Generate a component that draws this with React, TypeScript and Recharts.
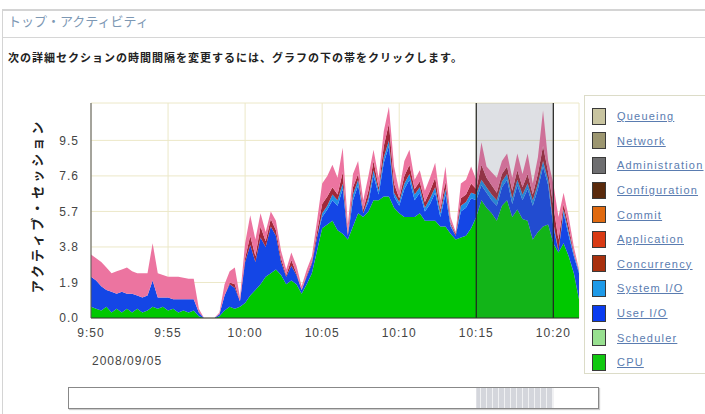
import React from "react";
import { AreaChart, Area, XAxis, YAxis, CartesianGrid, ReferenceArea, ReferenceLine } from "recharts";

// active sessions per wait class, sampled every 20 s from 9:50
const cpu = [
  0.6, 0.5, 0.4, 0.6, 0.3, 0.5, 0.3, 0.5, 0.3, 0.5,
  0.3, 0.4, 0.6, 0.5, 0.6, 0.4, 0.5, 0.3, 0.4, 0.3,
  0.4, 0.1, 0, 0, 0, 0.1, 0.4, 0.6, 0.5, 0.6,
  0.8, 1.2, 1.5, 1.8, 2.2, 2.4, 2.6, 2.3, 1.8, 2.0,
  1.8, 1.3, 1.8, 2.4, 3.6, 4.8, 5.0, 5.2, 4.7, 4.5,
  4.2, 4.9, 5.6, 5.4, 5.7, 6.3, 6.3, 6.5, 6.5, 5.9,
  5.6, 5.4, 5.4, 5.4, 5.6, 5.2, 5.2, 5.2, 4.9, 4.9,
  4.5, 4.2, 4.3, 4.4, 4.8, 5.4, 6.3, 5.9, 5.6, 5.2,
  6.0, 6.3, 5.4, 5.8, 5.3, 5.2, 4.2, 4.6, 4.9, 5.0,
  4.0, 3.5, 4.0, 3.3, 2.4, 1.0,
];
const userIO = [
  1.6, 1.5, 1.3, 0.9, 1.1, 0.8, 1.1, 0.8, 1.0, 0.7,
  0.8, 0.8, 1.4, 0.6, 0.5, 0.7, 0.5, 0.7, 0.6, 0.7,
  0.6, 0.2, 0, 0, 0, 0.1, 0.8, 1.2, 1.1, 0.3,
  2.2, 2.7, 1.5, 2.5, 1.6, 2.5, 1.8, 0.7, 0.4, 0.8,
  0.5, 0.2, 0.4, 0.5, 0.7, 0.6, 0.8, 1.1, 1.3, 2.4,
  0.2, 1.4, 1.5, 0.2, 0.5, 1.3, 0.3, 1.8, 2.7, 0.6,
  0.4, 1.5, 2.0, 0.9, 1.1, 0.5, 0.9, 1.5, 0.5, 1.7,
  0.4, 0.2, 1.4, 1.5, 1.6, 0.9, 0.8, 0.8, 0.7, 0.8,
  1.0, 1.1, 0.7, 1.3, 1.0, 1.7, 1.8, 2.3, 3.2, 2.1,
  0.9, 0.1, 1.6, 1.1, 0.9, 1.4,
];
const systemIO = [
  0, 0, 0, 0, 0, 0, 0, 0, 0, 0,
  0, 0, 0, 0, 0, 0, 0, 0, 0, 0,
  0, 0, 0, 0, 0, 0, 0, 0, 0, 0,
  0, 0, 0, 0, 0, 0, 0, 0, 0, 0,
  0, 0, 0, 0, 0, 0.2, 0.2, 0.3, 0.3, 0.3,
  0, 0.3, 0.3, 0, 0.2, 0.3, 0.2, 0.3, 0.3, 0.2,
  0.2, 0.3, 0.3, 0.3, 0.3, 0.2, 0.3, 0.3, 0.2, 0.3,
  0.1, 0, 0.3, 0.3, 0.3, 0.3, 0.3, 0.3, 0.3, 0.3,
  0.3, 0.3, 0.3, 0.3, 0.3, 0.3, 0.3, 0.3, 0.3, 0.3,
  0.2, 0, 0.2, 0.2, 0.1, 0.1,
];
const concurrency = [
  0, 0, 0, 0, 0, 0, 0, 0, 0, 0,
  0, 0, 0, 0, 0, 0, 0, 0, 0, 0,
  0, 0, 0, 0, 0, 0, 0, 0.1, 0.2, 0,
  0.2, 0.5, 0.3, 0.6, 0.3, 0.4, 0.3, 0.2, 0.1, 0.3,
  0.1, 0, 0.1, 0.1, 0.3, 0.5, 0.5, 0.4, 0.3, 0.6,
  0.1, 0.4, 0.3, 0.2, 0.4, 0.5, 0.2, 0.6, 0.9, 0.5,
  0.2, 0.4, 0.5, 0.3, 0.3, 0.3, 0.4, 0.5, 0.2, 0.4,
  0.1, 0.1, 0.4, 0.4, 0.5, 0.3, 0.8, 0.5, 0.5, 0.4,
  0.4, 0.4, 0.4, 0.5, 0.4, 0.5, 0.3, 0.5, 0.8, 0.4,
  0.9, 0.6, 0.3, 0.3, 0.1, 0,
];
const other = [
  1.2, 1.2, 1.3, 1.2, 1.0, 1.2, 1.2, 1.4, 1.2, 1.2,
  1.3, 1.2, 2.0, 1.3, 1.2, 1.1, 1.2, 1.2, 1.15, 1.1,
  1.1, 0.2, 0, 0, 0, 0.1, 0.6, 0.6, 0.9, 0.2,
  0.8, 1.1, 0.9, 0.7, 0.5, 0.4, 0.5, 0.4, 0.3, 0.4,
  0.4, 0.2, 0.3, 0.3, 0.6, 1.1, 1.1, 1.2, 0.9, 1.3,
  0.5, 0.7, 0.7, 0.5, 0.8, 0.6, 0.5, 0.8, 0.9, 0.9,
  0.4, 0.8, 0.8, 0.5, 0.6, 0.6, 0.7, 0.8, 0.5, 0.8,
  0.3, 0.1, 0.8, 0.8, 0.9, 0.5, 1.2, 0.6, 0.7, 0.8,
  0.7, 0.7, 0.7, 0.9, 0.7, 1.1, 0.6, 0.9, 1.9, 0.6,
  1.2, 1.2, 0.6, 0.5, 0.3, 0.1,
];

const sampleMinutes = 1 / 3;
const xTickValues = [0, 5, 10, 15, 20, 25, 30];
const xTickLabels = ["9:50", "9:55", "10:00", "10:05", "10:10", "10:15", "10:20"];
const yTicks = [0, 1.9, 3.8, 5.7, 7.6, 9.5];
const selection = [25, 30];

const legendNames = [
  "Queueing", "Network", "Administration", "Configuration", "Commit", "Application",
  "Concurrency", "System I/O", "User I/O", "Scheduler", "CPU",
];
const legendColors = [
  "#c8c4a0", "#9c9670", "#6e6e70", "#5a2a0c", "#e06a10", "#d83a14",
  "#a8300e", "#1e9ae8", "#0a3cf0", "#98e090", "#10c810",
];

const data = cpu.map((v, i) => ({
  t: i * sampleMinutes,
  cpu: v,
  userIO: userIO[i],
  systemIO: systemIO[i],
  concurrency: concurrency[i],
  other: other[i],
}));
const lastT = data[data.length - 1].t;

const latin = "'Liberation Sans', Arial, 'Noto Sans CJK JP', sans-serif";
const cjk = "'Noto Sans CJK JP', sans-serif";

export default function App() {
  return (
    <div style={{ position: "absolute", left: 0, top: 0, width: 705, height: 414, overflow: "hidden", background: "#fff", fontFamily: latin }}>
      {/* frame */}
      <div style={{ position: "absolute", left: 2, top: 9, width: 710, height: 420, borderLeft: "1px solid #d4d4d4", borderTop: "2px solid #d4d4d4" }} />
      <div style={{ position: "absolute", left: 3, top: 37, width: 710, height: 0, borderTop: "1px solid #d6d6d6" }} />
      <div style={{ position: "absolute", left: 8, top: 11, fontFamily: cjk, fontSize: 13, lineHeight: "19px", color: "#7d98b4", whiteSpace: "nowrap" }}>
        トップ・アクティビティ
      </div>
      <div style={{ position: "absolute", left: 8, top: 49, fontFamily: cjk, fontSize: 11, lineHeight: "16px", fontWeight: 700, letterSpacing: 1, color: "#222", whiteSpace: "nowrap" }}>
        次の詳細セクションの時間間隔を変更するには、グラフの下の帯をクリックします。
      </div>

      <div style={{ position: "absolute", left: 0, top: 0 }}>
        <AreaChart width={600} height={400} data={data} margin={{ top: 103, right: 21, bottom: 52, left: 41 }}>
          <CartesianGrid stroke="#ece8c8" ticks={yTicks} />
          <XAxis
            dataKey="t"
            type="number"
            domain={[0, lastT]}
            ticks={xTickValues}
            tickFormatter={(v: number) => xTickLabels[xTickValues.indexOf(v)]}
            tickLine={false}
            tickMargin={4}
            height={30}
            axisLine={{ stroke: "#333" }}
            tick={{ fontSize: 12, fill: "#444", letterSpacing: 1 }}
            interval={0}
          />
          <YAxis
            type="number"
            domain={[0, 11.5]}
            ticks={yTicks}
            tickFormatter={(v: number) => v.toFixed(1)}
            tickLine={false}
            tickMargin={6}
            width={50}
            axisLine={{ stroke: "#555" }}
            tick={{ fontSize: 12, fill: "#444", letterSpacing: 1 }}
            interval={0}
          />
          <Area type="linear" dataKey="cpu" stackId="a" stroke="none" fill="#00c800" fillOpacity={1} isAnimationActive={false} />
          <Area type="linear" dataKey="userIO" stackId="a" stroke="none" fill="#1446e6" fillOpacity={1} isAnimationActive={false} />
          <Area type="linear" dataKey="systemIO" stackId="a" stroke="none" fill="#1e8ee8" fillOpacity={1} isAnimationActive={false} />
          <Area type="linear" dataKey="concurrency" stackId="a" stroke="none" fill="#a0283a" fillOpacity={1} isAnimationActive={false} />
          <Area type="linear" dataKey="other" stackId="a" stroke="none" fill="#ec74a0" fillOpacity={1} isAnimationActive={false} />
          <ReferenceArea x1={selection[0]} x2={selection[1]} y1={0} y2={11.5} fill="#5a6478" fillOpacity={0.2} stroke="none" />
          <ReferenceLine x={selection[0]} stroke="#222" strokeWidth={1.2} />
          <ReferenceLine x={selection[1]} stroke="#222" strokeWidth={1.2} />
        </AreaChart>
      </div>

      {/* y axis title */}
      <div style={{ position: "absolute", left: 37 - 100, top: 206 - 9, width: 200, textAlign: "center", transform: "rotate(-90deg)", fontFamily: cjk, fontSize: 13, fontWeight: 700, letterSpacing: 3, color: "#222", whiteSpace: "nowrap", lineHeight: "18px" }}>
        アクティブ・セッション
      </div>
      <div style={{ position: "absolute", left: 92, top: 354, fontSize: 12, letterSpacing: 1, color: "#444" }}>2008/09/05</div>

      {/* legend */}
      <div style={{ position: "absolute", left: 584, top: 95, width: 140, height: 279, border: "1px solid #dcdcc8", boxSizing: "border-box", paddingTop: 8 }}>
        {legendNames.map((name, i) => (
          <div key={name} style={{ display: "flex", alignItems: "center", height: 24.6 }}>
            <div style={{ width: 14, height: 17, marginLeft: 7, marginRight: 11, background: legendColors[i], border: "1px solid #3a3a3a", boxSizing: "border-box" }} />
            <span style={{ fontSize: 11, letterSpacing: 1.2, color: "#5a7cb0", textDecoration: "underline", whiteSpace: "nowrap" }}>{name}</span>
          </div>
        ))}
      </div>

      {/* overview band */}
      <div style={{ position: "absolute", left: 68, top: 387, width: 531, height: 22, border: "1px solid #888", boxSizing: "border-box", boxShadow: "1px 1px 1px #ccc" }} />
      <div style={{ position: "absolute", left: 0, top: 388 }}>
        <AreaChart width={600} height={20} data={data} margin={{ top: 0, right: 21, bottom: 0, left: 91 }}>
          <defs>
            <pattern id="band" width="6" height="4" patternUnits="userSpaceOnUse">
              <rect width="1" height="4" fill="#f0f1f3" />
            </pattern>
          </defs>
          <XAxis dataKey="t" type="number" domain={[0, lastT]} hide height={0} />
          <YAxis hide width={0} />
          <Area type="linear" dataKey="cpu" stroke="none" fill="none" isAnimationActive={false} />
          <ReferenceArea x1={selection[0]} x2={selection[1]} fill="#d4d6dc" fillOpacity={1} stroke="none" ifOverflow="visible" />
          <ReferenceArea x1={selection[0]} x2={selection[1]} fill="url(#band)" fillOpacity={1} stroke="none" ifOverflow="visible" />
        </AreaChart>
      </div>
    </div>
  );
}
